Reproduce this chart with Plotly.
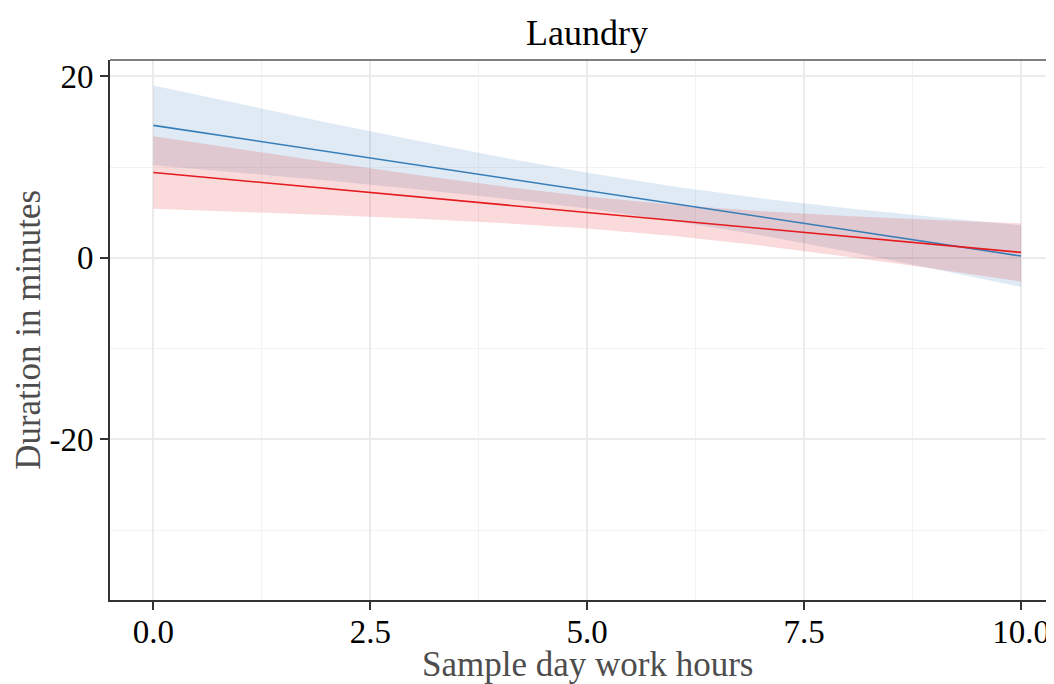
import plotly.graph_objects as go

# data
hours = [0, 1, 2, 3, 4, 5, 6, 7, 8, 9, 10]
blue_fit = [14.6, 13.16, 11.72, 10.28, 8.84, 7.4, 5.96, 4.52, 3.08, 1.64, 0.2]
blue_upper = [19.0, 16.96, 14.92, 12.98, 11.1, 9.37, 7.85, 6.56, 5.47, 4.5, 3.6]
blue_lower = [10.2, 9.36, 8.52, 7.58, 6.58, 5.43, 4.07, 2.48, 0.69, -1.22, -3.2]
red_fit = [9.4, 8.52, 7.64, 6.76, 5.88, 5.0, 4.12, 3.24, 2.36, 1.48, 0.6]
red_upper = [13.4, 11.96, 10.55, 9.18, 7.91, 6.77, 5.84, 5.13, 4.6, 4.17, 3.8]
red_lower = [5.4, 5.08, 4.73, 4.34, 3.85, 3.23, 2.4, 1.35, 0.12, -1.21, -2.6]

x_ticks = [0, 2.5, 5, 7.5, 10]
x_labels = ["0.0", "2.5", "5.0", "7.5", "10.0"]
y_ticks = [-20, 0, 20]
y_labels = ["-20", "0", "20"]

BLUE = "#377EB8"
RED = "#E41A1C"
FONT = "Liberation Serif"

fig = go.Figure()


def ribbon(x, lo, hi, color):
    fig.add_trace(go.Scatter(x=x, y=lo, mode="lines", line=dict(width=0),
                             hoverinfo="skip", showlegend=False))
    fig.add_trace(go.Scatter(x=x, y=hi, mode="lines", line=dict(width=0),
                             fill="tonexty", fillcolor=color,
                             hoverinfo="skip", showlegend=False))


ribbon(hours, blue_lower, blue_upper, "rgba(55,126,184,0.16)")
ribbon(hours, red_lower, red_upper, "rgba(228,26,28,0.16)")

fig.add_trace(go.Scatter(x=hours, y=blue_fit, mode="lines",
                         line=dict(color=BLUE, width=1.6), showlegend=False))
fig.add_trace(go.Scatter(x=hours, y=red_fit, mode="lines",
                         line=dict(color=RED, width=1.6), showlegend=False))

fig.update_layout(
    width=1046, height=676,
    margin=dict(l=102, r=0, t=52, b=84),
    paper_bgcolor="white", plot_bgcolor="white",
    font=dict(family=FONT, color="black", size=33),
    title=dict(text="Laundry", x=0.5535, xanchor="center", y=0.9645,
               yanchor="middle", font=dict(family=FONT, size=36, color="black")),
    showlegend=False,
)

fig.update_xaxes(
    range=[-0.5, 10.38], automargin=False,
    tickvals=x_ticks, ticktext=x_labels,
    ticks="outside", ticklen=8, tickwidth=1.5, tickcolor="#333333",
    ticklabelstandoff=-7,
    showline=True, linecolor="#333333", linewidth=2,
    showgrid=True, gridcolor="#EBEBEB", gridwidth=1.5,
    minor=dict(dtick=1.25, tick0=0, showgrid=True, gridcolor="#F2F2F2", gridwidth=1),
    zeroline=False,
    tickfont=dict(family=FONT, size=33, color="black"),
)
fig.update_yaxes(
    range=[-37.7, 21.8], automargin=False,
    tickvals=y_ticks, ticktext=y_labels,
    ticks="outside", ticklen=8, tickwidth=1.5, tickcolor="#333333",
    ticklabelstandoff=0,
    showline=True, linecolor="#333333", linewidth=2,
    showgrid=True, gridcolor="#EBEBEB", gridwidth=1.5,
    minor=dict(dtick=10, tick0=0, showgrid=True, gridcolor="#F2F2F2", gridwidth=1),
    zeroline=False,
    tickfont=dict(family=FONT, size=33, color="black"),
)

fig.add_annotation(text="Sample day work hours", xref="paper", yref="paper",
                   x=0.5055, y=-0.119, xanchor="center", yanchor="middle",
                   showarrow=False, font=dict(family=FONT, size=35, color="#4D4D4D"))
fig.add_annotation(text="Duration in minutes", xref="paper", yref="paper",
                   x=-0.087, y=0.5, xanchor="center", yanchor="middle", textangle=-90,
                   showarrow=False, font=dict(family=FONT, size=35, color="#4D4D4D"))

fig.add_shape(type="line", xref="paper", yref="paper", x0=0, x1=1, y0=1, y1=1,
              line=dict(color="#555555", width=1.5))

fig.write_html("out.html")
